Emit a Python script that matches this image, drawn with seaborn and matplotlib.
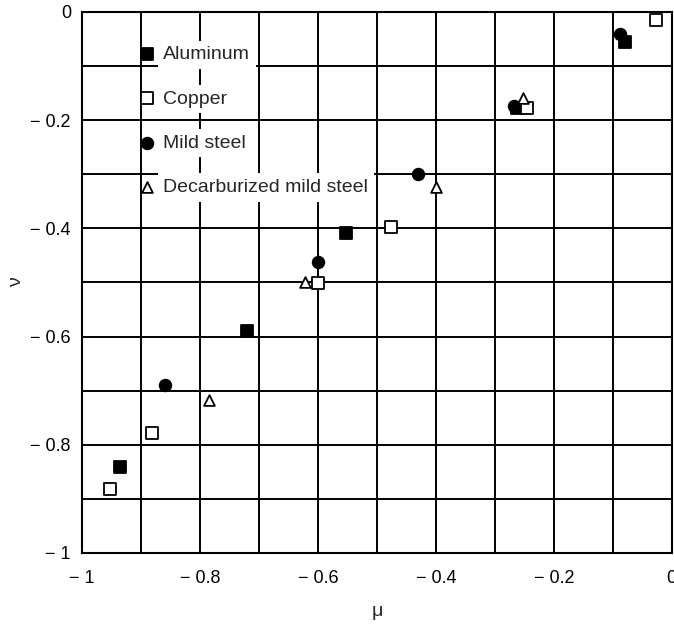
import matplotlib
matplotlib.use("Agg")
import matplotlib.pyplot as plt
import numpy as np
import pandas as pd
import seaborn as sns

# values (mu, nu)
al_mu = [-0.935, -0.72, -0.552, -0.262, -0.080]
al_nu = [-0.842, -0.590, -0.408, -0.178, -0.056]
cu_mu = [-0.952, -0.882, -0.600, -0.476, -0.245, -0.027]
cu_nu = [-0.882, -0.779, -0.501, -0.398, -0.177, -0.015]
ms_mu = [-0.859, -0.600, -0.431, -0.267, -0.087]
ms_nu = [-0.689, -0.462, -0.299, -0.173, -0.041]
dms_mu = [-0.784, -0.622, -0.400, -0.252]
dms_nu = [-0.718, -0.500, -0.323, -0.159]

ticks = [-1, -0.8, -0.6, -0.4, -0.2, 0]
tick_labels = ["\u2212 1", "\u2212 0.8", "\u2212 0.6", "\u2212 0.4", "\u2212 0.2", "0"]

series = [
    ("Aluminum", al_mu, al_nu, "s", "black"),
    ("Copper", cu_mu, cu_nu, "s", "white"),
    ("Mild steel", ms_mu, ms_nu, "o", "black"),
    ("Decarburized mild steel", dms_mu, dms_nu, "^", "white"),
]

sns.set_theme(style="white")
plt.rcParams["font.family"] = ["Liberation Sans", "DejaVu Sans"]

fig = plt.figure(figsize=(6.74, 6.29), dpi=100)
ax = fig.add_axes([0.1217, 0.121, 0.875, 0.860])

for name, mu, nu, mk, fc in series:
    df = pd.DataFrame({"mu": mu, "nu": nu})
    sns.scatterplot(data=df, x="mu", y="nu", marker=mk, s=70 if mk != "^" else 60,
                    color=fc, edgecolor="black", linewidth=1.3, label=name,
                    ax=ax, zorder=4)

ax.set_xlim(-1, 0)
ax.set_ylim(-1, 0)
ax.set_xticks(np.arange(-1, 0.01, 0.1), minor=True)
ax.set_yticks(np.arange(-1, 0.01, 0.1), minor=True)
ax.set_xticks(ticks)
ax.set_yticks(ticks)
ax.set_xticklabels(tick_labels, fontsize=13)
ax.set_yticklabels(tick_labels, fontsize=13)
ax.tick_params(axis="x", which="both", length=0, pad=12, colors="black")
ax.tick_params(axis="y", which="both", length=0, pad=8, colors="black")
ax.grid(True, which="both", color="black", linewidth=1.4)
ax.set_axisbelow(True)
for sp in ax.spines.values():
    sp.set_color("black")
    sp.set_linewidth(1.5)

ax.set_xlabel("\u03bc", fontsize=14, labelpad=12)
ax.set_ylabel("\u03bd", fontsize=14, labelpad=4)

leg = ax.legend(loc="upper left", bbox_to_anchor=(0.08, 0.952), frameon=False,
                fontsize=14, labelspacing=1.37, handletextpad=0.35,
                handlelength=1.0, borderaxespad=0)
for t in leg.get_texts():
    t.set_bbox(dict(facecolor="white", edgecolor="none", pad=4))

fig.savefig("out.png", dpi=100, facecolor="white")
